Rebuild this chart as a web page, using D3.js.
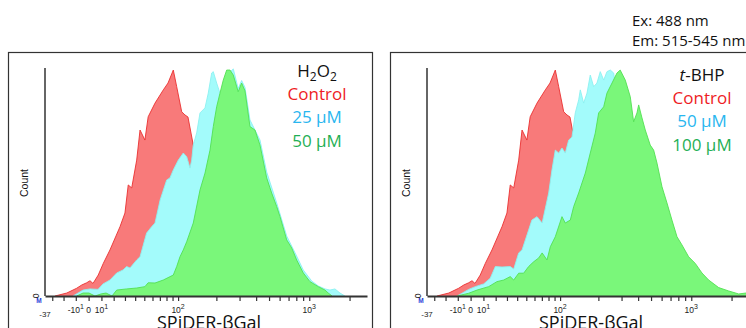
<!DOCTYPE html>
<html>
<head>
<meta charset="utf-8">
<script src="https://cdn.jsdelivr.net/npm/d3@7"></script>
<style>
  body { margin:0; background:#fff; }
  svg { display:block; }
  .tick-lab { font-family:"Liberation Sans", Arial, sans-serif; font-size:8.5px; fill:#222; }
  .leg { font-family:"Open Sans", sans-serif; font-size:17px; }
</style>
</head>
<body>
<div id="chart"></div>
<script>
// fluorescence value, count (% of max)
var ctrl = [[-27.5,0],[-17.3,1.3],[-9.3,3.4],[-5.4,4.8],[-1.5,5.8],[1.1,6.7],[3.4,5.5],[7.5,9.2],
  [11.5,14.3],[16.9,20.2],[25.5,30.4],[30,36.4],[33.1,48.7],[36.5,47.4],[41.6,59.6],[45.2,72.8],
  [50.7,68.4],[54.6,78.6],[63.3,84.6],[75.1,90.4],[82.4,93.4],[91.3,99.1],[97.4,91.8],[107,80.8],
  [113.7,79.4],[120.2,78.5],[132.4,66.2],[149.5,55],[178.7,38],[213,22],[280,9],[360,2],[427,0]]

var h2o2_25 = [[-12.2,0],[-4.3,2.6],[1.1,3.1],[7.3,2.9],[11.3,5.3],[16.9,7.0],[22.6,10.1],[28.2,11.4],
  [31.6,12.9],[34.8,12.3],[41.6,15.8],[45.2,17.2],[52.7,27.6],[58.9,30.4],[63.3,32],[70.4,42.1],
  [80.3,50.9],[85.6,51.8],[91.3,55.3],[100.4,59.6],[110.2,62.7],[117.4,61.1],[124.7,56.1],[128.6,59.6],
  [132.4,66.2],[140.8,71.5],[149.5,80.3],[163.5,82.5],[173.3,89],[184.1,97.8],[189.4,98.4],[201,93.4],
  [213,89],[225,88],[254,98.2],[269,99.6],[293,91],[311,94.5],[329.7,91.5],[359.5,77.2],[427.5,68.4],
  [480,54.4],[570.6,40.8],[678,26.3],[805,17.5],[902,11.4],[1042,6.6],[1168,4.4],[1310,3.1],
  [1428,2.6],[1556,3.1],[1696,1.3],[1848,0]]

var h2o2_50 = [[-9.3,0],[-4.3,1.3],[0.3,1.3],[4.9,0],[9.7,0.9],[13.7,1.3],[18.6,0],[22.6,2.6],
  [31.6,3.1],[41.6,3.5],[50.7,4.1],[54.6,5.8],[63.3,5.7],[75,7.0],[91.3,9.2],[97.4,12.9],[103.6,17.2],
  [110.2,20.2],[117.4,23.8],[132.4,32],[149.5,46.5],[163.5,53.9],[178.7,64],[189.4,74.3],[201,83],
  [213,88.9],[225.8,94.7],[239.7,99.1],[254,99.1],[269,96.9],[293,89.6],[311,93.4],[329.7,90],
  [359.5,74.3],[392,72.8],[427.5,66.2],[480,51.8],[523,45.2],[570.6,39.2],[604,34.8],[678,24.6],
  [738.6,21.1],[805,15.8],[902,10.1],[1012,6.3],[1168,4.1],[1310,2.6],[1387,1.3],[1480,0]]

var tbhp_50 = [[-10.6,0],[-6.7,1.2],[-1.5,2.9],[3.6,4.1],[10.2,5.3],[15.5,7.8],[19.7,12.9],[25.5,12.7],
  [33.1,12.9],[36.5,11.8],[41.6,18.9],[45.2,20.2],[52.7,28.9],[56.7,33.3],[63.3,34.8],[70.4,32],
  [80.3,45.2],[85.6,55.3],[91.3,64],[97.4,62.7],[103.6,64.9],[110.2,62.7],[117.4,68.4],[124.7,69.7],
  [132.4,80.3],[140.8,86],[145,90.4],[154,84.6],[163.5,89],[173.3,96.9],[184.1,91.8],[195,93.4],
  [206.8,98.4],[219.6,94.7],[232.6,98.4],[246.5,99.1],[261.6,97.8],[267.6,93.4],[300,88],
  [329.7,80],[427.5,65],[604,38],[852,15],[1202,5],[1696,0]]

var tbhp_100 = [[-10.6,0],[-1.5,1.2],[5.0,2.6],[14.2,4.1],[21.1,6.3],[27.0,7.0],[33.1,8.5],[36.5,7.0],
  [41.6,10],[47.0,10],[52.7,12.9],[58.9,15],[65.6,16.7],[70.4,18.9],[77.7,15.8],[82.9,21.6],[91.3,26],
  [103.6,34.8],[110.2,32],[120.9,33.3],[128.6,39.2],[140.8,45.2],[158.6,53.9],[173.3,62.7],[189.4,71.5],
  [201,80.3],[219.6,83],[232.6,89],[254,93.4],[277,97.8],[293,99.1],[320,94.7],[349,87.4],[370,76.4],
  [392,80.3],[403.6,83.8],[427.5,78.1],[452.5,72.8],[493,66.2],[523,64],[554,58.3],[604,47.9],
  [658,40.8],[717,33.3],[782,26],[852,22.4],[956,17.2],[1071,14.3],[1202,10.1],[1349,7.0],[1602,3.7],
  [1903,2.2],[2260,0.9],[2562,1.3],[2700,1.3]]

var minorTicks = [-30,-20,-10,0,10,20,30,40,50,60,70,80,90,100,200,300,400,500,600,700,800,900,1000,2000]
var tickLabels = [{v:-10, t:'-10', s:'1'}, {v:0, t:'0', s:''}, {v:10, t:'10', s:'1'},
                  {v:100, t:'10', s:'2'}, {v:1000, t:'10', s:'3'}]

var panels = [
  { dx:0,   title:[{t:'H',s:''},{t:'2',s:'sub'},{t:'O',s:''},{t:'2',s:'sub'}], ty:0,
    labels:['Control','25 µM','50 µM'], series:[ctrl, h2o2_25, h2o2_50], lx:317 },
  { dx:382, title:[{t:'t',s:'it'},{t:'-BHP',s:''}], ty:4,
    labels:['Control','50 µM','100 µM'], series:[ctrl, tbhp_50, tbhp_100], lx:320 }
]

var fills   = ['#f87a7a', '#a3fbfb', '#7af77a']
var strokes = ['#ea3030', '#8cf0f0', '#52e052']
var txtCols = ['#ee1c25', '#29b6ef', '#1faf55']

var W = 746, H = 328
var svg = d3.select('#chart').append('svg').attr('width', W).attr('height', H)

// biexponential-like display transform
var tf = v => Math.asinh(v / 45)
var x = d3.scaleLinear().domain([-37, 2700].map(tf)).range([45, 367])
var y = d3.scaleLinear().domain([0, 100]).range([296, 68])
var xv = v => x(tf(v))

// Ex / Em note
svg.append('text').attr('x', 632).attr('y', 26).attr('class','leg').style('font-size','15px').style('fill','#111').text('Ex: 488 nm')
svg.append('text').attr('x', 632).attr('y', 46).attr('class','leg').style('font-size','15px').style('fill','#111').text('Em: 515-545 nm')

panels.forEach(function(p) {
    var g = svg.append('g').attr('transform', 'translate(' + p.dx + ',0)')

    g.append('rect').attr('x', 8.5).attr('y', 52.5).attr('width', 364).attr('height', 320)
        .attr('fill', 'none').attr('stroke', '#333').attr('stroke-width', 1.2)

    var area = d3.area().x(d => xv(d[0])).y0(y(0)).y1(d => y(d[1]))
    var line = d3.line().x(d => xv(d[0])).y(d => y(d[1]))

    p.series.forEach(function(s, i) {
        g.append('path').datum(s).attr('d', area).attr('fill', fills[i])
        g.append('path').datum(s).attr('d', line).attr('fill', 'none')
            .attr('stroke', strokes[i]).attr('stroke-width', 0.9)
    })

    // axes
    g.append('line').attr('x1', 45).attr('x2', 45).attr('y1', 68).attr('y2', 296)
        .attr('stroke', '#333').attr('stroke-width', 1.5)
    var ax = d3.axisBottom(x).tickValues(minorTicks.map(tf)).tickFormat('').tickSize(5).tickSizeOuter(0)
    var axg = g.append('g').attr('transform', 'translate(0,296)').call(ax)
    axg.select('.domain').attr('stroke', '#333').attr('stroke-width', 2)
    axg.selectAll('.tick line').attr('stroke', '#333').attr('stroke-width', 1.2)

    tickLabels.forEach(function(l) {
        var t = g.append('text').attr('class', 'tick-lab').attr('text-anchor', 'middle')
            .attr('x', xv(l.v)).attr('y', 313)
        t.append('tspan').text(l.t)
        if (l.s) t.append('tspan').attr('dy', -4).style('font-size', '7px').text(l.s)
    })
    g.append('text').attr('class', 'tick-lab').attr('text-anchor', 'middle')
        .attr('x', 45).attr('y', 317).style('font-size','8px').text('-37')
    g.append('text').attr('class', 'tick-lab').attr('text-anchor', 'middle')
        .attr('x', 39).attr('y', 303).style('font-size','6.5px').style('font-weight','bold')
        .style('fill', '#2a3fd8').text('M')
    g.append('text').attr('class', 'tick-lab').attr('text-anchor', 'middle')
        .attr('transform', 'translate(39,296) rotate(-90)').style('font-size','8.5px').text('0')

    g.append('text').attr('transform', 'translate(28,183) rotate(-90)').attr('text-anchor', 'middle')
        .style('font-family', '"Liberation Sans", Arial, sans-serif').style('font-size', '10.5px')
        .style('fill', '#111').text('Count')

    g.append('text').attr('x', 209).attr('y', 329).attr('text-anchor', 'middle')
        .attr('class', 'leg').style('font-size', '18px').style('fill', '#111').text('SPiDER-βGal')

    // legend
    var tt = g.append('text').attr('class', 'leg').attr('text-anchor', 'middle')
        .attr('x', p.lx).attr('y', 77 + p.ty).style('fill', '#111')
    var wasSub = false
    p.title.forEach(function(part) {
        var ts = tt.append('tspan').text(part.t)
        if (part.s === 'sub') { ts.attr('dy', 4).style('font-size', '12px'); wasSub = true }
        else {
            if (part.s === 'it') ts.style('font-style', 'italic')
            if (wasSub) ts.attr('dy', -4)
            wasSub = false
        }
    })
    p.labels.forEach(function(lab, i) {
        g.append('text').attr('class', 'leg').attr('text-anchor', 'middle')
            .attr('x', p.lx).attr('y', 100 + p.ty + i * 23.3).style('fill', txtCols[i]).text(lab)
    })
})
</script>
</body>
</html>
